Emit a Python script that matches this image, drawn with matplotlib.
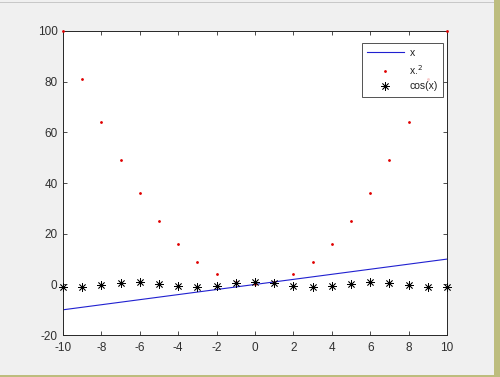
import matplotlib
matplotlib.use("Agg")
import matplotlib.pyplot as plt
from matplotlib.patches import Rectangle
from matplotlib.lines import Line2D

plt.rcParams['font.family'] = ['Liberation Sans', 'DejaVu Sans']
plt.rcParams['axes.unicode_minus'] = False

x_vals = [-10, -9, -8, -7, -6, -5, -4, -3, -2, -1, 0, 1, 2, 3, 4, 5, 6, 7, 8, 9, 10]
line_x = [-10, -9, -8, -7, -6, -5, -4, -3, -2, -1, 0, 1, 2, 3, 4, 5, 6, 7, 8, 9, 10]
sq_vals = [100, 81, 64, 49, 36, 25, 16, 9, 4, 1, 0, 1, 4, 9, 16, 25, 36, 49, 64, 81, 100]
cos_vals = [-0.84, -0.91, -0.15, 0.75, 0.96, 0.28, -0.65, -0.99, -0.42, 0.54, 1.0,
            0.54, -0.42, -0.99, -0.65, 0.28, 0.96, 0.75, -0.15, -0.91, -0.84]
legend_labels = ['x', 'x.$^2$', 'cos(x)']
xticks = [-10, -8, -6, -4, -2, 0, 2, 4, 6, 8, 10]
yticks = [-20, 0, 20, 40, 60, 80, 100]

BLUE = '#2020D0'
STAR = (8, 2, 0)

fig = plt.figure(figsize=(5, 3.77), dpi=100, facecolor='#F0F0F0')
ax = fig.add_axes([0.126, 0.111, 0.768, 0.807])

ax.plot(x_vals, line_x, color=BLUE, lw=0.8)
ax.plot(x_vals, sq_vals, ls='none', marker='.', ms=2.0, color='#E00000', clip_on=False, zorder=3)
ax.plot(x_vals, cos_vals, ls='none', marker=STAR, ms=6, mew=0.55, color='black', clip_on=False, zorder=3)

ax.set_xlim(-10, 10)
ax.set_ylim(-20, 100)
ax.set_xticks(xticks)
ax.set_yticks(yticks)
ax.tick_params(direction='in', top=True, right=True, length=3, width=0.6,
               labelsize=8.5, colors='#303030')
ax.tick_params(axis='x', pad=5)
ax.tick_params(axis='y', pad=4)
for s in ax.spines.values():
    s.set_linewidth(0.7)
    s.set_color('#262626')

handles = [Line2D([], [], color=BLUE, lw=0.8),
           Line2D([], [], ls='none', marker='.', ms=2.0, color='#E00000'),
           Line2D([], [], ls='none', marker=STAR, ms=6, mew=0.55, color='black')]
leg = ax.legend(handles, legend_labels, loc='upper right', bbox_to_anchor=(0.9896, 0.9605),
                borderaxespad=0, fontsize=7.5, frameon=True, fancybox=False,
                edgecolor='#262626', handlelength=3.6, borderpad=0.5,
                labelspacing=0.45, handletextpad=0.5)
leg.get_frame().set_linewidth(0.7)
for t in leg.get_texts():
    t.set_color('#202020')

# screenshot frame
fig.patches.append(Rectangle((0.988, 0), 0.012, 1, transform=fig.transFigure,
                             facecolor='#BDBD7E', edgecolor='none'))
fig.patches.append(Rectangle((0, 0), 1, 0.006, transform=fig.transFigure,
                             facecolor='#BDBD7E', edgecolor='none'))
fig.patches.append(Rectangle((0, 0.993), 0.988, 0.003, transform=fig.transFigure,
                             facecolor='#C8C8C8', edgecolor='none'))

fig.savefig('out.png', dpi=100, facecolor=fig.get_facecolor())
